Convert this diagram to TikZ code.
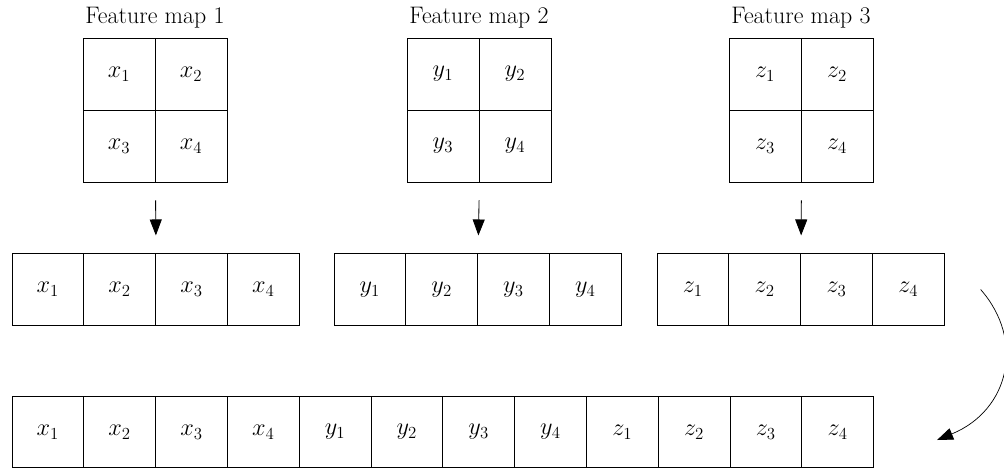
\documentclass[tikz,border=0pt]{standalone}
\usetikzlibrary{arrows.meta}
\begin{document}
\begin{tikzpicture}[x=0.025cm,y=-0.025cm,
  txt/.style={font=\fontsize{17}{20}\selectfont},
  cell/.style={txt, draw, line width=0.6pt, minimum width=1.8cm,
    minimum height=1.8cm, inner sep=0pt},
  rcell/.style={cell, minimum width=1.795cm, minimum height=1.78cm},
  arr/.style={-{Triangle[length=0.4cm,width=0.3cm]}, line width=0.6pt}]
\useasboundingbox (0,0) rectangle (1004,468);

% three 2x2 feature maps, each flattened into a row of four cells
\foreach \m/\v/\gx/\rx in {1/x/0/0, 2/y/324/322, 3/z/646/645} {
  \node[txt] (t\m) at (155+\gx,18) {Feature map \m};
  \node[cell] (g\m-1) at (119+\gx,74)  {$\v_1$};
  \node[cell] (g\m-2) at (191+\gx,74)  {$\v_2$};
  \node[cell] (g\m-3) at (119+\gx,146) {$\v_3$};
  \node[cell] (g\m-4) at (191+\gx,146) {$\v_4$};
  \foreach \k in {1,...,4}
    \node[rcell] (r\m-\k) at ({47.9+71.8*(\k-1)+\rx},289.5) {$\v_\k$};
  \draw[arr, shorten <=0.45cm, shorten >=0.45cm]
    (g\m-3.south east) -- (r\m-2.north east);
}

% concatenated vector
\foreach [count=\n] \v/\k in {x/1,x/2,x/3,x/4,y/1,y/2,y/3,y/4,z/1,z/2,z/3,z/4}
  \node[rcell] (b\n) at ({47.9+71.8*(\n-1)},432) {$\v_\k$};

% concatenation arrow
\coordinate (cs) at ([xshift=0.9cm]r3-4.east);
\coordinate (ce) at ([xshift=1.575cm,yshift=-0.2cm]b12.east);
\draw[arr, line width=0.5pt] (cs) .. controls (1025,340) and (1010,410) .. (ce);
\end{tikzpicture}
\end{document}
